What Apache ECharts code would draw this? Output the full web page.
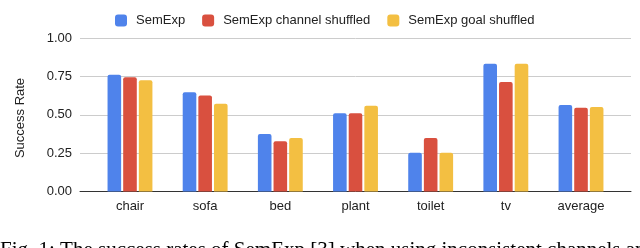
<!DOCTYPE html>
<html>
<head>
<meta charset="utf-8">
<script src="https://cdn.jsdelivr.net/npm/echarts@6/dist/echarts.min.js"></script>
<style>
html,body{margin:0;padding:0;background:#fff;}
#chart{width:640px;height:248px;}
</style>
</head>
<body>
<div id="chart"></div>
<script>
var categories = ['chair', 'sofa', 'bed', 'plant', 'toilet', 'tv', 'average'];
var seriesNames = ['SemExp', 'SemExp channel shuffled', 'SemExp goal shuffled'];
var semExp = [0.76, 0.647, 0.375, 0.51, 0.253, 0.832, 0.564];
var channelShuffled = [0.745, 0.625, 0.327, 0.51, 0.349, 0.714, 0.545];
var goalShuffled = [0.725, 0.571, 0.349, 0.558, 0.253, 0.832, 0.551];
var yTicks = [0, 0.25, 0.5, 0.75, 1.0];
var colors = ['#4f83eb', '#d9503f', '#f3bf42'];

var chart = echarts.init(document.getElementById('chart'), null, {renderer: 'canvas'});
var font = 'Arial, "Liberation Sans", sans-serif';
var seriesData = [semExp, channelShuffled, goalShuffled];

var option = {
  animation: false,
  backgroundColor: '#fff',
  color: colors,
  legend: {
    left: 110, top: 9,
    itemWidth: 12, itemHeight: 12, itemGap: 17,
    icon: 'roundRect',
    textStyle: {fontFamily: font, fontSize: 13, color: '#222', padding: [0, 0, 0, 4]},
    data: seriesNames
  },
  grid: [
    {left: 80, right: 9, top: 38, bottom: 56.5},
    {left: 92.4, right: 21.4, top: 38, bottom: 56.5}
  ],
  xAxis: [
    {gridIndex: 0, type: 'value', min: 0, max: 1,
     axisLine: {show: true, onZero: false, lineStyle: {color: '#333', width: 1}},
     axisTick: {show: false}, axisLabel: {show: false}, splitLine: {show: false}},
    {gridIndex: 1, type: 'category', data: categories,
     axisLine: {show: false}, axisTick: {show: false},
     axisLabel: {fontFamily: font, fontSize: 13, color: '#222', margin: 8}}
  ],
  yAxis: [
    {gridIndex: 0, type: 'value', min: yTicks[0], max: yTicks[yTicks.length - 1], interval: 0.25,
     axisLine: {show: false}, axisTick: {show: false},
     axisLabel: {fontFamily: font, fontSize: 13, color: '#222', margin: 8,
       formatter: function (v) { return v.toFixed(2); }},
     splitLine: {lineStyle: {color: '#cccccc', width: 1}}},
    {gridIndex: 1, type: 'value', min: 0, max: 1, show: false, splitLine: {show: false}}
  ],
  graphic: [
    {type: 'text', rotation: Math.PI / 2, x: 20, y: 118,
     style: {text: 'Success Rate', font: '13px ' + font, fill: '#222',
       textAlign: 'center', textVerticalAlign: 'middle'}},
    {type: 'text', x: 0, y: 240,
     style: {text: 'Fig. 1: The success rates of SemExp [3] when using inconsistent channels and t',
       font: '21px "Liberation Serif", "Times New Roman", serif', fill: '#000',
       textAlign: 'left', textVerticalAlign: 'top'}}
  ],
  series: seriesNames.map(function (name, i) {
    return {
      name: name, type: 'bar', xAxisIndex: 1, yAxisIndex: 1,
      data: seriesData[i], barWidth: 13.6, barGap: '15%',
      itemStyle: {color: colors[i], borderRadius: [2, 2, 0, 0]}
    };
  })
};
chart.setOption(option);
</script>
</body>
</html>
